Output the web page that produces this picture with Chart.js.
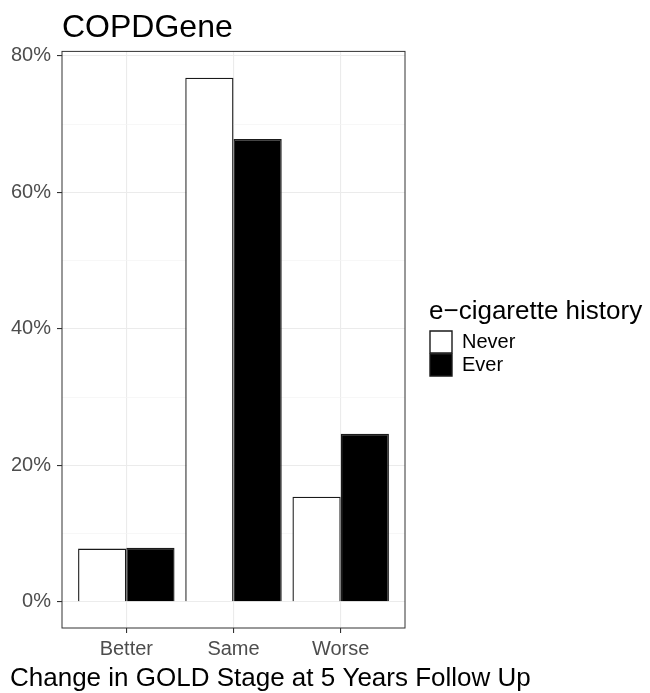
<!DOCTYPE html>
<html>
<head>
<meta charset="utf-8">
<script src="https://cdn.jsdelivr.net/npm/chart.js@4.4.0/dist/chart.umd.min.js"></script>
<style>
  body { margin: 0; background: #ffffff; }
  canvas { display: block; }
</style>
</head>
<body>
<canvas id="grafico" width="650" height="693"></canvas>
<script>
const categories = ["Better", "Same", "Worse"];
const neverValues = [7.8, 76.8, 15.4];
const everValues = [7.9, 67.8, 24.6];
const seriesNames = ["Never", "Ever"];
const yLabelStep = 20;

const font = "'Liberation Sans', Arial, Helvetica, sans-serif";

function toPoints(values) {
    return values.map((v, i) => ({ x: i + 1, y: v }));
}

// panel frame like theme_bw
const panelBorder = {
    id: "panelBorder",
    afterDatasetsDraw(chart) {
        const { ctx, chartArea: a } = chart;
        ctx.save();
        ctx.strokeStyle = "#333333";
        ctx.lineWidth = 1;
        ctx.strokeRect(a.left, a.top, a.right - a.left, a.bottom - a.top);
        ctx.restore();
    }
};

// legend title is wider than the items, so widen the legend box
const legendWidth = {
    id: "legendWidth",
    afterInit(chart) {
        const fit = chart.legend.fit;
        chart.legend.fit = function () {
            fit.call(this);
            this.width = 221;
        };
    }
};

const isMajor = (v) => Math.abs(v % yLabelStep) < 1e-6;

const ctx = document.getElementById("grafico").getContext("2d");
const chart = new Chart(ctx, {
    type: "bar",
    data: {
        datasets: [
            {
                label: seriesNames[0],
                data: toPoints(neverValues),
                backgroundColor: "#ffffff",
                borderColor: "#1a1a1a",
                borderWidth: 1.4,
            },
            {
                label: seriesNames[1],
                data: toPoints(everValues),
                backgroundColor: "#000000",
                borderColor: "#1a1a1a",
                borderWidth: 1.4,
            },
        ],
    },
    options: {
        responsive: false,
        animation: false,
        layout: { padding: { left: 10, right: 0, top: 0, bottom: 0 } },
        datasets: { bar: { categoryPercentage: 0.9, barPercentage: 1.0 } },
        scales: {
            x: {
                type: "linear",
                min: 0.4,
                max: 3.6,
                offset: false,
                border: { display: false },
                grid: { offset: false, color: "#ebebeb", lineWidth: 1.1, tickLength: 5, tickColor: "#333333" },
                ticks: {
                    stepSize: 1,
                    includeBounds: false,
                    padding: 4,
                    color: "#4d4d4d",
                    font: { family: font, size: 20 },
                    callback: (v) => categories[v - 1] || "",
                },
            },
            y: {
                min: -3.85,
                max: 80.65,
                border: { display: false },
                afterFit: (scale) => { scale.width = 52; },
                grid: {
                    color: (c) => isMajor(c.tick.value) ? "#ebebeb" : "#f3f3f3",
                    lineWidth: (c) => isMajor(c.tick.value) ? 1.1 : 0.7,
                    tickLength: 5,
                    tickColor: (c) => isMajor(c.tick.value) ? "#333333" : "rgba(0,0,0,0)",
                },
                ticks: {
                    stepSize: 10,
                    includeBounds: false,
                    padding: 6,
                    color: "#4d4d4d",
                    font: { family: font, size: 20 },
                    callback: (v) => isMajor(v) ? v + "%" : "",
                },
            },
            y2: {
                position: "right",
                display: true,
                border: { display: false },
                grid: { display: false },
                ticks: { display: false },
                afterFit: (scale) => { scale.width = 24; },
            },
        },
        plugins: {
            title: {
                display: true,
                text: "COPDGene",
                align: "start",
                fullSize: false,
                color: "#000000",
                font: { family: font, size: 32, weight: "normal" },
                padding: { top: 9, bottom: 4 },
            },
            subtitle: {
                display: true,
                text: "Change in GOLD Stage at 5 Years Follow Up",
                position: "bottom",
                align: "start",
                color: "#000000",
                font: { family: font, size: 26, weight: "normal", lineHeight: 1.0 },
                padding: { top: 1, bottom: 1 },
            },
            legend: {
                position: "right",
                align: "start",
                title: {
                    display: true,
                    text: "e\u2212cigarette history",
                    position: "start",
                    color: "#000000",
                    font: { family: font, size: 26, lineHeight: 1.0 },
                    padding: { top: 299, bottom: 5 },
                },
                labels: {
                    boxWidth: 22,
                    boxHeight: 22,
                    padding: 1,
                    color: "#000000",
                    font: { family: font, size: 20 },
                },
            },
            tooltip: { enabled: false },
        },
    },
    plugins: [panelBorder, legendWidth],
});
</script>
</body>
</html>
